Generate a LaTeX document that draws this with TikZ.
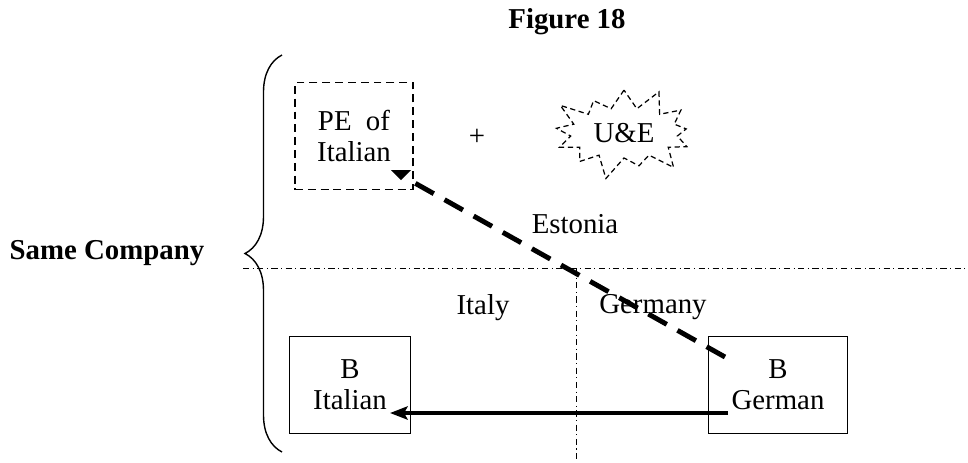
\documentclass[tikz,border=0pt]{standalone}
\usepackage{fontspec}
\setmainfont{Liberation Serif}
\usetikzlibrary{arrows.meta,shapes.symbols,decorations.pathreplacing,positioning}

\begin{document}
\begin{tikzpicture}[x=0.2mm,y=-0.2mm,>={Stealth[length=10pt,width=7.5pt,inset=2pt]},
	font=\fontsize{16.4}{17.6}\selectfont]

	\tikzstyle{rect}=[
		rectangle,
		draw=black,
		line width=0.8pt,
		minimum height=1.94cm,
		align=center,
		inner sep=0pt
	]
	\tikzstyle{border}=[
		line width=0.55pt,
		dash pattern=on 3.5pt off 2pt on 0.6pt off 2pt
	]

	\useasboundingbox (0,0) rectangle (968,462);

	\node [font=\fontsize{16.4}{17.6}\selectfont\bfseries] (T) at (567,22) {Figure 18};

	\node [rect, dash pattern=on 4.5pt off 2.8pt, minimum width=2.36cm, minimum height=2.14cm] (PE) at (354,136) {PE~~of\\Italian};
	\node (P) at (477,137) {+};
	\node [starburst, draw, dash pattern=on 3pt off 2pt, line width=0.7pt, starburst points=13,
		starburst point height=0.5cm, minimum width=3.15cm, minimum height=2cm] (UE) at (624,133) {U\&E};

	\node (E) at (575,224) {Estonia};
	\node [font=\fontsize{16.4}{17.6}\selectfont\bfseries] (S) at (107,253) {Same Company};
	\node (I) at (483,308) {Italy};
	\node (G) at (653,307) {Germany};

	\node [rect, minimum width=2.42cm] (BI) at (350,385) {B\\Italian};
	\node [rect, minimum width=2.78cm] (BG) at (778,385) {B\\German};

	% borders
	\coordinate (H1) at (243,268);
	\coordinate (H2) at (968,268);
	\coordinate (V1) at (576,268);
	\coordinate (V2) at (576,462);
	\draw [border] (H1) -- (H2);
	\draw [border] (V1) -- (V2);

	% brace
	\draw [line width=0.8pt, decorate, decoration={brace, amplitude=0.74cm}] (282,452) -- (282,55);

	% arrows
	\coordinate (BGa) at (725,357);
	\coordinate (PEa) at (413,182);
	\coordinate (BGb) at (728,413);
	\coordinate (BIb) at (390,413);
	\draw [line width=2.8pt, dash pattern=on 12pt off 7pt] (BGa) -- (PEa);
	\fill (391,170) -- (411,170) -- (401,180) -- cycle;
	\draw [line width=2.8pt, ->] (BGb) -- (BIb);

\end{tikzpicture}
\end{document}
